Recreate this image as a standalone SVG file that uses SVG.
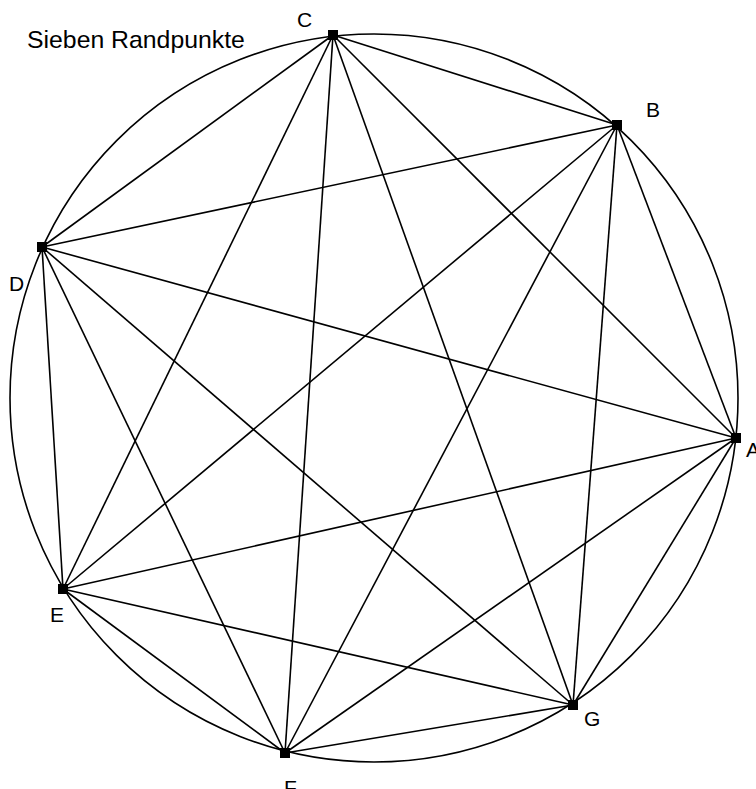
<svg xmlns="http://www.w3.org/2000/svg" width="756" height="789" viewBox="0 0 756 789">
<style>
.e{stroke:#000;stroke-width:1.6;fill:none}
.n{fill:#000}
.t{font-family:"Liberation Sans",Arial,sans-serif;font-size:21px;fill:#000}
.title{font-family:"Liberation Sans",Arial,sans-serif;font-size:24.8px;fill:#000}
</style>
<rect width="756" height="789" fill="#fff"/>
<circle class="e" cx="374" cy="398" r="364"/>
<g id="connectors">
<line class="e" x1="333" y1="35" x2="617" y2="125"/>
<line class="e" x1="333" y1="35" x2="736" y2="438"/>
<line class="e" x1="333" y1="35" x2="573" y2="705"/>
<line class="e" x1="333" y1="35" x2="285" y2="753"/>
<line class="e" x1="333" y1="35" x2="63" y2="589"/>
<line class="e" x1="333" y1="35" x2="42" y2="247"/>
<line class="e" x1="617" y1="125" x2="736" y2="438"/>
<line class="e" x1="617" y1="125" x2="573" y2="705"/>
<line class="e" x1="617" y1="125" x2="285" y2="753"/>
<line class="e" x1="617" y1="125" x2="63" y2="589"/>
<line class="e" x1="617" y1="125" x2="42" y2="247"/>
<line class="e" x1="736" y1="438" x2="573" y2="705"/>
<line class="e" x1="736" y1="438" x2="285" y2="753"/>
<line class="e" x1="736" y1="438" x2="63" y2="589"/>
<line class="e" x1="736" y1="438" x2="42" y2="247"/>
<line class="e" x1="573" y1="705" x2="285" y2="753"/>
<line class="e" x1="573" y1="705" x2="63" y2="589"/>
<line class="e" x1="573" y1="705" x2="42" y2="247"/>
<line class="e" x1="285" y1="753" x2="63" y2="589"/>
<line class="e" x1="285" y1="753" x2="42" y2="247"/>
<line class="e" x1="63" y1="589" x2="42" y2="247"/>
</g>
<g id="A"><rect class="n" x="731" y="433" width="10" height="10"/><text class="t" x="746" y="457">A</text></g>
<g id="B"><rect class="n" x="612" y="120" width="10" height="10"/><text class="t" x="646" y="117">B</text></g>
<g id="C"><rect class="n" x="328" y="30" width="10" height="10"/><text class="t" x="297" y="27">C</text></g>
<g id="D"><rect class="n" x="37" y="242" width="10" height="10"/><text class="t" x="9" y="291">D</text></g>
<g id="E"><rect class="n" x="58" y="584" width="10" height="10"/><text class="t" x="50" y="622">E</text></g>
<g id="F"><rect class="n" x="280" y="748" width="10" height="10"/><text class="t" x="284" y="795">F</text></g>
<g id="G"><rect class="n" x="568" y="700" width="10" height="10"/><text class="t" x="584" y="726">G</text></g>
<text class="title" x="27" y="48">Sieben Randpunkte</text>
</svg>
